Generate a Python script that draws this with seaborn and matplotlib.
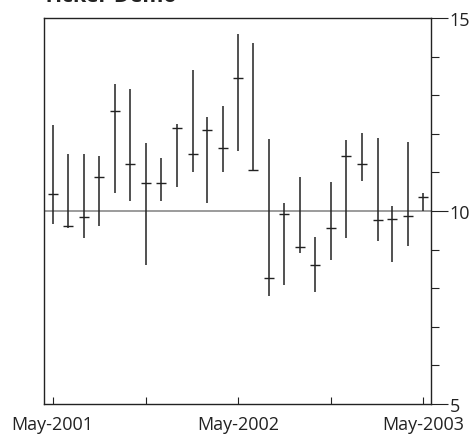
import matplotlib
matplotlib.use("Agg")
import numpy as np
import pandas as pd
import seaborn as sns
from matplotlib import pyplot as plt

# monthly hi / lo / close, May-2001 .. May-2003
months = pd.date_range("2001-05-01", "2003-05-01", freq="MS")
high = [12.24, 11.48, 11.48, 11.42, 13.29, 13.16, 11.77, 11.38, 12.26, 13.65,
        12.44, 12.72, 14.58, 14.34, 11.86, 10.20, 10.89, 9.33, 10.75, 11.84,
        12.02, 11.88, 10.12, 11.80, 10.46]
low = [9.66, 9.55, 9.30, 9.60, 10.47, 10.26, 8.60, 10.26, 10.61, 11.02,
       10.21, 11.00, 11.56, 11.06, 7.80, 8.08, 8.92, 7.91, 8.74, 9.30,
       10.79, 9.22, 8.69, 9.09, 10.00]
close = [10.43, 9.61, 9.85, 10.89, 12.60, 11.22, 10.73, 10.73, 12.16, 11.48,
         12.11, 11.62, 13.44, 11.06, 8.26, 9.93, 9.07, 8.61, 9.55, 11.43,
         11.22, 9.77, 9.80, 9.88, 10.37]

xtick_dates = pd.to_datetime(["2001-05-01", "2001-11-01", "2002-05-01",
                              "2002-11-01", "2003-05-01"])
xtick_labels = ["May-2001", "", "May-2002", "", "May-2003"]
reference = 10

df = pd.DataFrame({"month": months, "high": high, "low": low, "close": close})

sns.set_style("white")
plt.rcParams["font.family"] = ["Open Sans", "DejaVu Sans"]

fig = plt.figure(figsize=(4.74, 4.39), dpi=100)
ax = fig.add_axes([44 / 474, 1 - 405 / 439, (431 - 44) / 474, (405 - 19) / 439])

ax.axhline(reference, color="#808080", lw=1.1, zorder=1)
ax.vlines(df["month"], df["low"], df["high"], color="#222222", lw=1.1, zorder=2)
sns.scatterplot(data=df, x="month", y="close", marker="_", s=52,
                color="#222222", linewidth=1.0, ax=ax, zorder=3, legend=False)

ax.set_xlim(pd.Timestamp("2001-04-14"), pd.Timestamp("2003-05-17"))
ax.set_ylim(5, 15)

ax.set_xticks(xtick_dates)
ax.set_xticklabels(xtick_labels, fontsize=13, color="#222222")
ax.tick_params(axis="x", direction="in", length=5, width=0.8, color="#222222",
               bottom=True, pad=8)

ax.yaxis.tick_right()
ax.set_yticks([5, 10, 15])
ax.set_yticks(np.arange(6, 15), minor=True)
ax.tick_params(axis="y", which="major", direction="out", length=12.2, width=0.8,
               color="#222222", labelsize=13, labelcolor="#222222", pad=1,
               right=True, left=False)
ax.tick_params(axis="y", which="minor", direction="out", length=6, width=0.8,
               color="#222222", right=True, left=False)

for side in ["left", "right", "top", "bottom"]:
    ax.spines[side].set_visible(True)
    ax.spines[side].set_color("#222222")
    ax.spines[side].set_linewidth(1.0)

ax.set_xlabel("")
ax.set_ylabel("")

fig.text(43 / 474, 1 - 1.5 / 439, "Ticker Demo", fontsize=15.5, fontweight="bold",
         va="baseline", ha="left", color="#222222")

fig.savefig("out.png", dpi=100)
